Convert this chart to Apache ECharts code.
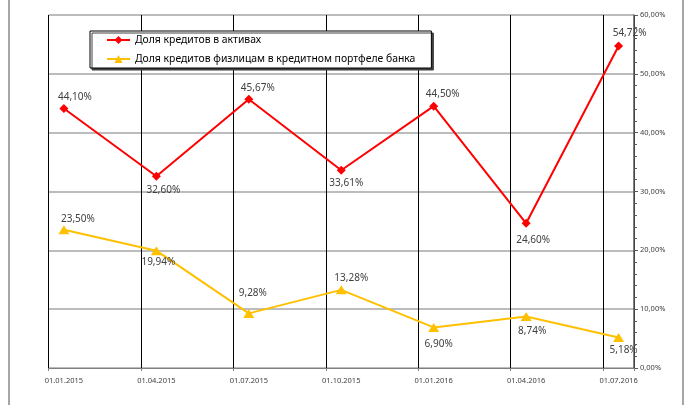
<!DOCTYPE html>
<html>
<head>
<meta charset="utf-8">
<script src="https://cdn.jsdelivr.net/npm/echarts@6/dist/echarts.min.js"></script>
<style>
    html, body { margin: 0; padding: 0; background: #fff; }
    #chart { width: 690px; height: 405px; }
</style>
</head>
<body>
<div id="chart"></div>
<script>
// даты отчётов (подписи оси)
const dates = ['01.01.2015', '01.04.2015', '01.07.2015', '01.10.2015', '01.01.2016', '01.04.2016', '01.07.2016']
const seriesNames = ['Доля кредитов в активах', 'Доля кредитов физлицам в кредитном портфеле банка']
const assetsShare = [44.10, 32.60, 45.67, 33.61, 44.50, 24.60, 54.72]
const retailShare = [23.50, 19.94, 9.28, 13.28, 6.90, 8.74, 5.18]
const yTicks = [0, 10, 20, 30, 40, 50, 60]

// label offsets (style only)
const redOffsets = [[11, -11], [7, 14], [9, -11], [5, 13], [9, -12], [7, 17], [11, -13]]
const yellowOffsets = [[14, -11], [2, 11], [4, -20], [10, -12], [5, 17], [6, 15], [5, 13]]

;(function () {
    // monthly categories so the axis works like Excel's date axis
    const months = []
    for (let y = 2015; y <= 2016; y++) {
        for (let m = 1; m <= 12; m++) {
            const s = '01.' + (m < 10 ? '0' + m : m) + '.' + y
            months.push(s)
            if (s === dates[dates.length - 1]) break
        }
    }

    const fmt = v => v.toFixed(2).replace('.', ',') + '%'
    const font = '"Noto Sans", "DejaVu Sans", sans-serif'

    function build(values, offsets) {
        return values.map((v, i) => ({
            value: [dates[i], v],
            label: { offset: offsets[i] }
        }))
    }

    const myChart = echarts.init(document.getElementById('chart'))

    const option = {
        animation: false,
        textStyle: { fontFamily: font },
        graphic: [
            { type: 'line', shape: { x1: 9, y1: 0, x2: 9, y2: 405 }, style: { stroke: '#a6a6a6', lineWidth: 2 } },
            { type: 'line', shape: { x1: 683, y1: 0, x2: 683, y2: 405 }, style: { stroke: '#a6a6a6', lineWidth: 2 } }
        ],
        legend: {
            orient: 'vertical',
            left: 90,
            top: 31,
            padding: [3, 16, 3, 16],
            itemGap: 7,
            itemWidth: 23,
            itemHeight: 10,
            backgroundColor: '#fff',
            borderColor: '#000',
            borderWidth: 1,
            borderRadius: 0,
            shadowColor: '#404040',
            shadowBlur: 0,
            shadowOffsetX: 2,
            shadowOffsetY: 2,
            textStyle: { fontSize: 10.4, color: '#000', lineHeight: 12, fontFamily: font },
            data: seriesNames
        },
        grid: {
            left: 48.5,
            right: 56,
            top: 15,
            bottom: 37
        },
        xAxis: {
            type: 'category',
            data: months,
            boundaryGap: true,
            axisLine: { lineStyle: { color: '#808080', width: 1 } },
            axisTick: { show: true, interval: 2, length: 3, lineStyle: { color: '#808080' } },
            axisLabel: {
                interval: 2,
                fontSize: 7.5,
                color: '#404040',
                margin: 9,
                formatter: function (v) { return dates.indexOf(v) >= 0 ? v : '' }
            },
            splitLine: { show: true, interval: 2, lineStyle: { color: '#000', width: 1 } }
        },
        yAxis: {
            type: 'value',
            position: 'right',
            min: yTicks[0],
            max: yTicks[yTicks.length - 1],
            interval: 10,
            axisLine: { show: true, lineStyle: { color: '#595959', width: 1.5 } },
            axisTick: { show: true, length: 4, lineStyle: { color: '#595959' } },
            minorTick: { show: true, splitNumber: 5, length: 3, lineStyle: { color: '#595959' } },
            axisLabel: {
                fontSize: 7.5,
                color: '#404040',
                margin: 6,
                formatter: fmt
            },
            splitLine: { show: true, lineStyle: { color: '#a6a6a6', width: 1.5 } }
        },
        series: [
            {
                name: seriesNames[0],
                type: 'line',
                z: 3,
                symbol: 'diamond',
                symbolSize: 9,
                color: '#ff0000',
                lineStyle: { width: 2, color: '#ff0000' },
                label: {
                    show: true,
                    position: 'inside',
                    fontSize: 10,
                    color: '#404040',
                    formatter: p => fmt(p.value[1])
                },
                data: build(assetsShare, redOffsets)
            },
            {
                name: seriesNames[1],
                type: 'line',
                z: 2,
                symbol: 'triangle',
                symbolSize: [11, 9],
                color: '#ffc000',
                lineStyle: { width: 2, color: '#ffc000' },
                label: {
                    show: true,
                    position: 'inside',
                    fontSize: 10,
                    color: '#404040',
                    formatter: p => fmt(p.value[1])
                },
                data: build(retailShare, yellowOffsets)
            }
        ]
    }

    myChart.setOption(option)
})()
</script>
</body>
</html>
